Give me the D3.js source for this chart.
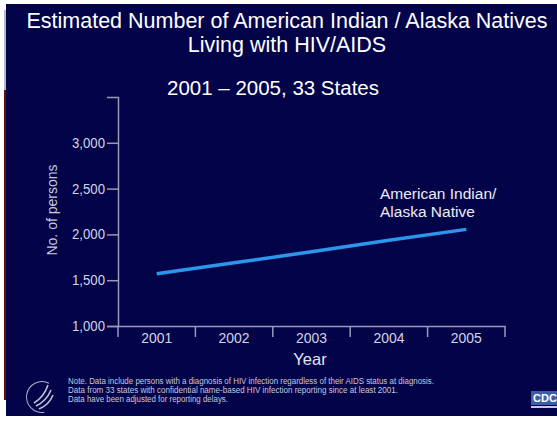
<!DOCTYPE html>
<html>
<head>
<meta charset="utf-8">
<script src="https://cdn.jsdelivr.net/npm/d3@7"></script>
<style>
  body { margin: 0; background: #fff; }
  svg text { font-family: "Liberation Sans", Arial, sans-serif; }
</style>
</head>
<body>
<svg id="chart" width="557" height="421"></svg>
<script>
// data
var years = ["2001", "2002", "2003", "2004", "2005"];
var persons = [1570, 1690, 1810, 1935, 2055];
var yTicks = [1000, 1500, 2000, 2500, 3000];
var titleLines = ["Estimated Number of American Indian / Alaska Natives", "Living with HIV/AIDS"];
var subtitle = "2001 \u2013 2005, 33 States";
var seriesLabel = ["American Indian/", "Alaska Native"];
var notes = [
  "Note. Data include persons with a diagnosis of HIV infection regardless of their AIDS status at diagnosis.",
  "Data from 33 states with confidential name-based HIV infection reporting since at least 2001.",
  "Data have been adjusted for reporting delays."
];
var noteWidths = [366, 330, 160];

var svg = d3.select("#chart");
var bg = "#03034a";

// slide background + edge strips
svg.append("rect").attr("x", 6).attr("y", 4).attr("width", 551).attr("height", 412).attr("fill", bg);
svg.append("rect").attr("x", 4).attr("y", 10).attr("width", 2).attr("height", 80).attr("fill", "#b8b8c8");
svg.append("rect").attr("x", 4).attr("y", 90).attr("width", 2).attr("height", 310).attr("fill", "#6a0a14");

var plotL = 118, plotR = 505, plotT = 97, plotB = 326;

var x = d3.scaleBand().domain(years).range([plotL, plotR]);
var y = d3.scaleLinear().domain([1000, 3500]).range([plotB, plotT]);

// titles
svg.selectAll("text.title")
  .data(titleLines)
  .enter().append("text")
  .attr("class", "title")
  .attr("x", 287)
  .attr("y", function(d, i) { return 28 + i * 24; })
  .attr("text-anchor", "middle")
  .attr("fill", "#ffffff")
  .style("font-size", "21.5px")
  .text(function(d) { return d; });

svg.append("text")
  .attr("x", 273).attr("y", 95)
  .attr("text-anchor", "middle")
  .attr("fill", "#ffffff")
  .style("font-size", "20.5px")
  .text(subtitle);

var axisColor = "#9a9ab8";
var labelColor = "#d4d4e4";

// y axis
var yAxis = svg.append("g")
  .attr("transform", "translate(" + plotL + ",0)")
  .call(d3.axisLeft(y).tickValues(yTicks).tickSize(11).tickPadding(2)
    .tickFormat(d3.format(",")));
yAxis.select(".domain").attr("stroke", axisColor).attr("stroke-width", 1.5);
yAxis.selectAll(".tick line").attr("stroke", axisColor).attr("stroke-width", 1.5);
yAxis.selectAll(".tick text")
  .attr("fill", labelColor)
  .attr("textLength", 33)
  .attr("lengthAdjust", "spacingAndGlyphs")
  .style("font-size", "14px");

// x axis with separators at band edges
var xAxis = svg.append("g")
  .attr("transform", "translate(0," + plotB + ")")
  .call(d3.axisBottom(x).tickSize(0).tickPadding(6));
xAxis.select(".domain").attr("stroke", axisColor).attr("stroke-width", 1.5);
xAxis.selectAll(".tick text")
  .attr("fill", labelColor)
  .attr("textLength", 31)
  .attr("lengthAdjust", "spacingAndGlyphs")
  .style("font-size", "15px");
xAxis.selectAll("line.sep")
  .data(years.concat(["end"]))
  .enter().append("line")
  .attr("class", "sep")
  .attr("x1", function(d, i) { return plotL + i * x.step(); })
  .attr("x2", function(d, i) { return plotL + i * x.step(); })
  .attr("y1", 0).attr("y2", 11)
  .attr("stroke", axisColor).attr("stroke-width", 1.5);

// axis titles
svg.append("text")
  .attr("x", 310).attr("y", 365)
  .attr("text-anchor", "middle")
  .attr("fill", "#e4e4ee")
  .style("font-size", "16.5px")
  .text("Year");

svg.append("text")
  .attr("transform", "translate(57,210) rotate(-90)")
  .attr("text-anchor", "middle")
  .attr("fill", "#c8c8dc")
  .style("font-size", "14px")
  .text("No. of persons");

// series line
var line = d3.line()
  .x(function(d, i) { return x(years[i]) + x.bandwidth() / 2; })
  .y(function(d) { return y(d); });

svg.append("path")
  .datum(persons)
  .attr("d", line)
  .attr("fill", "none")
  .attr("stroke", "#2c96ea")
  .attr("stroke-width", 3.5);

svg.selectAll("text.series")
  .data(seriesLabel)
  .enter().append("text")
  .attr("class", "series")
  .attr("x", 380)
  .attr("y", function(d, i) { return 199 + i * 18; })
  .attr("fill", "#ececf4")
  .style("font-size", "15.5px")
  .text(function(d) { return d; });

// footnote
svg.selectAll("text.note")
  .data(notes)
  .enter().append("text")
  .attr("class", "note")
  .attr("x", 68)
  .attr("y", function(d, i) { return 384 + i * 9; })
  .attr("fill", "#c8c8dc")
  .attr("textLength", function(d, i) { return noteWidths[i]; })
  .attr("lengthAdjust", "spacingAndGlyphs")
  .style("font-size", "8.5px")
  .text(function(d) { return d; });

// HHS seal (simplified)
var seal = svg.append("g").attr("transform", "translate(42,397)");
seal.append("path")
  .attr("d", d3.arc()({ innerRadius: 15, outerRadius: 16, startAngle: -Math.PI * 1.05, endAngle: 0.15 * Math.PI }))
  .attr("fill", "#b0b0c8");
[[-8, 6, 6, -12], [-6, 9, 9, -7], [-3, 12, 11, -2]].forEach(function(s) {
  seal.append("path")
    .attr("d", "M" + s[0] + "," + s[1] + " Q" + ((s[0] + s[2]) / 2 + 3) + "," + ((s[1] + s[3]) / 2 + 3) + " " + s[2] + "," + s[3])
    .attr("fill", "none").attr("stroke", "#c0c0d4").attr("stroke-width", 1.6);
});

// CDC logo (cut at edge)
svg.append("rect").attr("x", 531).attr("y", 391).attr("width", 26).attr("height", 14).attr("fill", "#3a5fa8");
svg.append("text").attr("x", 533).attr("y", 402)
  .attr("fill", "#ffffff").style("font-size", "11px").style("font-weight", "bold").text("CDC");
svg.append("rect").attr("x", 531).attr("y", 406).attr("width", 26).attr("height", 2).attr("fill", "#c8c8e0");
</script>
</body>
</html>
